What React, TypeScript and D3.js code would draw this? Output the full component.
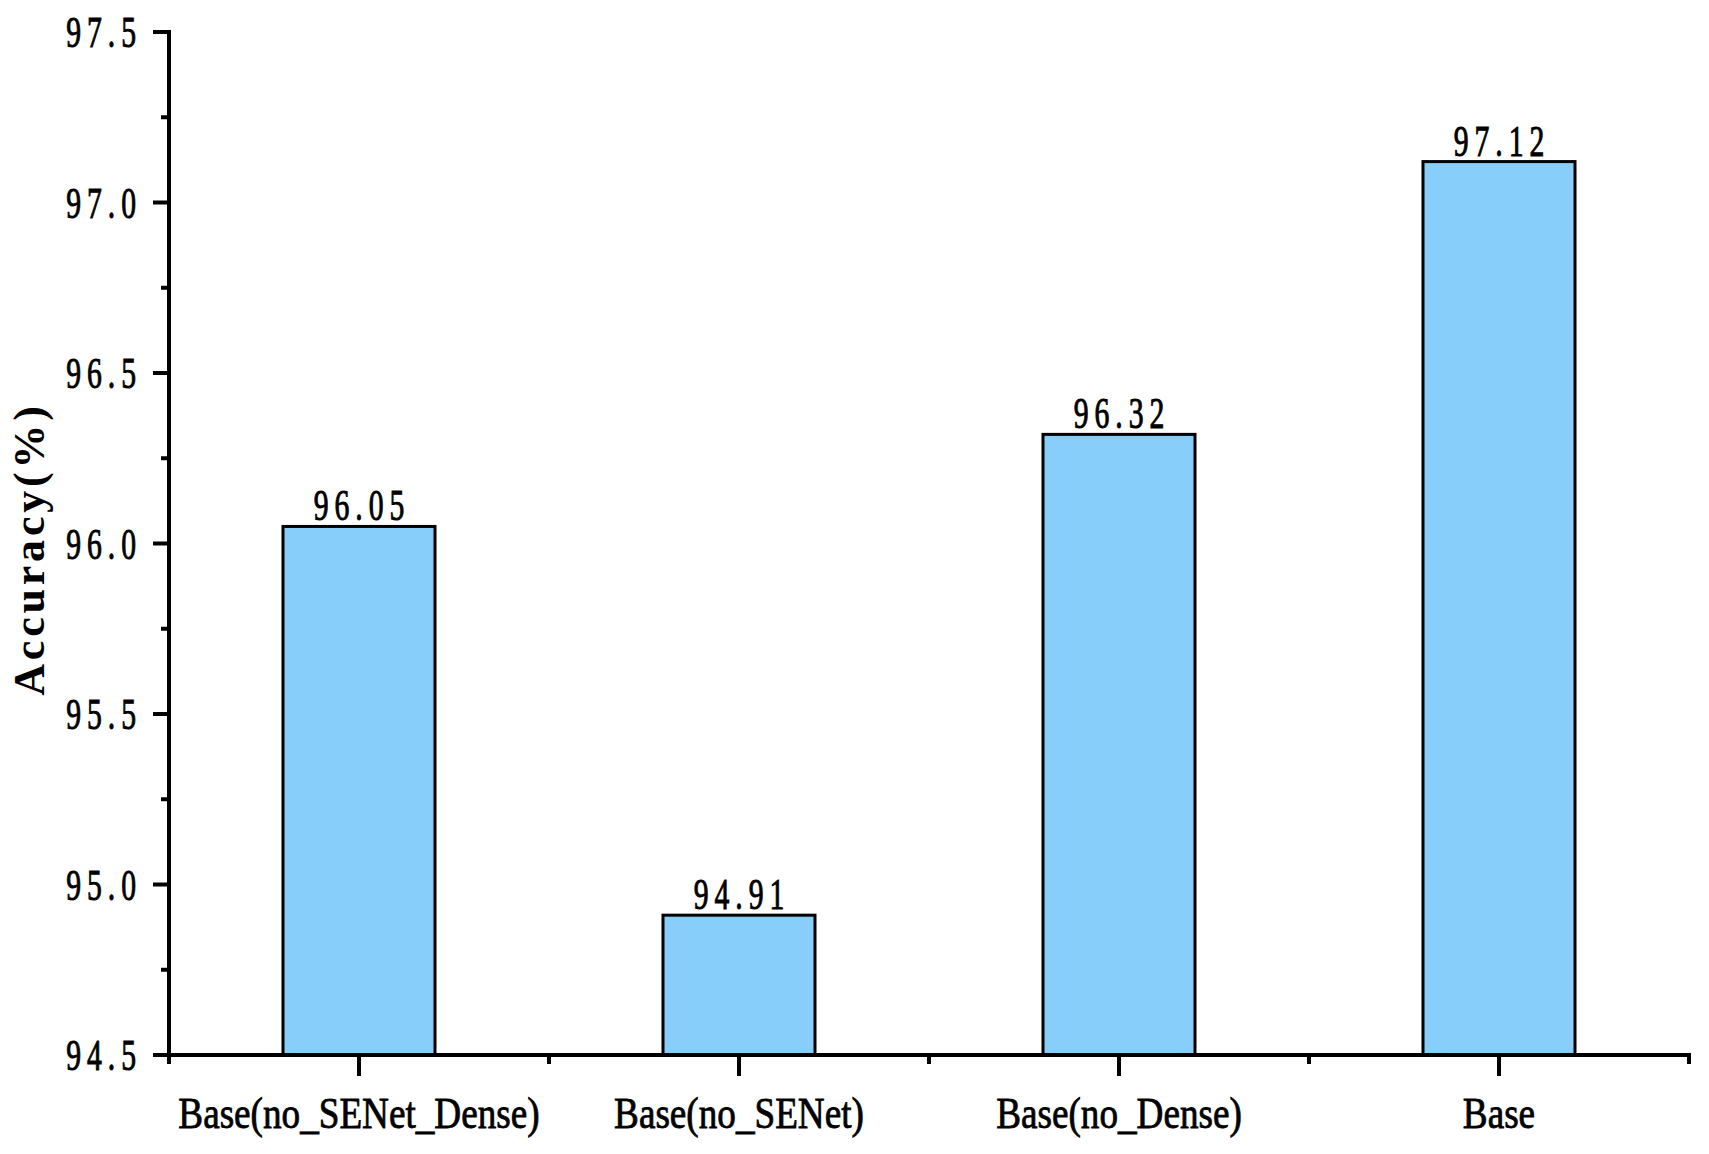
import React, { useEffect } from "react";
import * as d3 from "d3";

const categories = ["Base(no_SENet_Dense)", "Base(no_SENet)", "Base(no_Dense)", "Base"];
const accuracy = [96.05, 94.91, 96.32, 97.12];
const yTicks = [94.5, 95.0, 95.5, 96.0, 96.5, 97.0, 97.5];
const yMinorTicks = [94.75, 95.25, 95.75, 96.25, 96.75, 97.25];

const W = 1709;
const H = 1154;
const left = 169;
const right = 1689;
const top = 32;
const bottom = 1055;

export default function App() {
  useEffect(() => {
    document.body.style.margin = "0";
    document.body.style.overflow = "hidden";
  }, []);

  const x = d3.scaleBand<string>().domain(categories).range([left, right]).paddingInner(0).paddingOuter(0);
  const y = d3.scaleLinear().domain([94.5, 97.5]).range([bottom, top]);
  const bw = x.bandwidth() * 0.4;
  const serif = "'Liberation Serif', 'Times New Roman', serif";
  const boundaries = [...categories.map((c) => x(c) as number), right];

  return (
    <svg width={W} height={H} style={{ display: "block", background: "#fff" }}>
      {/* bars */}
      {categories.map((c, i) => {
        const cx = (x(c) as number) + x.bandwidth() / 2;
        return (
          <g key={c}>
            <rect
              x={cx - bw / 2}
              y={y(accuracy[i])}
              width={bw}
              height={y(94.5) - y(accuracy[i])}
              fill="#87CEFA"
              stroke="#000"
              strokeWidth={3}
            />
            <text
              transform={`translate(${cx + 3},${y(accuracy[i]) - 6}) scale(0.66,1)`}
              textAnchor="middle"
              fontFamily={serif}
              fontSize={45}
              letterSpacing={9}
              fill="#000"
              stroke="#000"
              strokeWidth={1}
            >
              {accuracy[i].toFixed(2)}
            </text>
          </g>
        );
      })}

      {/* y axis */}
      <line x1={left} x2={left} y1={top - 2} y2={bottom + 2} stroke="#000" strokeWidth={4} />
      {yTicks.map((t) => (
        <g key={t}>
          <line x1={left - 16} x2={left} y1={y(t)} y2={y(t)} stroke="#000" strokeWidth={4} />
          <text
            transform={`translate(${left - 27},${y(t) + 15}) scale(0.66,1)`}
            textAnchor="end"
            fontFamily={serif}
            fontSize={45}
            letterSpacing={9}
            fill="#000"
            stroke="#000"
            strokeWidth={1}
          >
            {t.toFixed(1)}
          </text>
        </g>
      ))}
      {yMinorTicks.map((t) => (
        <line key={t} x1={left - 8} x2={left} y1={y(t)} y2={y(t)} stroke="#000" strokeWidth={4} />
      ))}

      {/* x axis */}
      <line x1={left - 2} x2={right + 2} y1={bottom} y2={bottom} stroke="#000" strokeWidth={4} />
      {boundaries.map((b, i) => (
        <line key={"b" + i} x1={b} x2={b} y1={bottom} y2={bottom + 9} stroke="#000" strokeWidth={4} />
      ))}
      {categories.map((c) => {
        const cx = (x(c) as number) + x.bandwidth() / 2;
        return (
          <g key={"t" + c}>
            <line x1={cx} x2={cx} y1={bottom} y2={bottom + 21} stroke="#000" strokeWidth={4} />
            <text
              transform={`translate(${cx},${1128}) scale(0.845,1)`}
              textAnchor="middle"
              fontFamily={serif}
              fontSize={44}
              fill="#000"
              stroke="#000"
              strokeWidth={0.8}
            >
              {c}
            </text>
          </g>
        );
      })}

      {/* y label */}
      <text
        transform={`translate(44,${549}) rotate(-90)`}
        textAnchor="middle"
        fontFamily={serif}
        fontSize={44}
        fontWeight="bold"
        letterSpacing={3.8}
        fill="#000"
      >
        Accuracy(%)
      </text>
    </svg>
  );
}
